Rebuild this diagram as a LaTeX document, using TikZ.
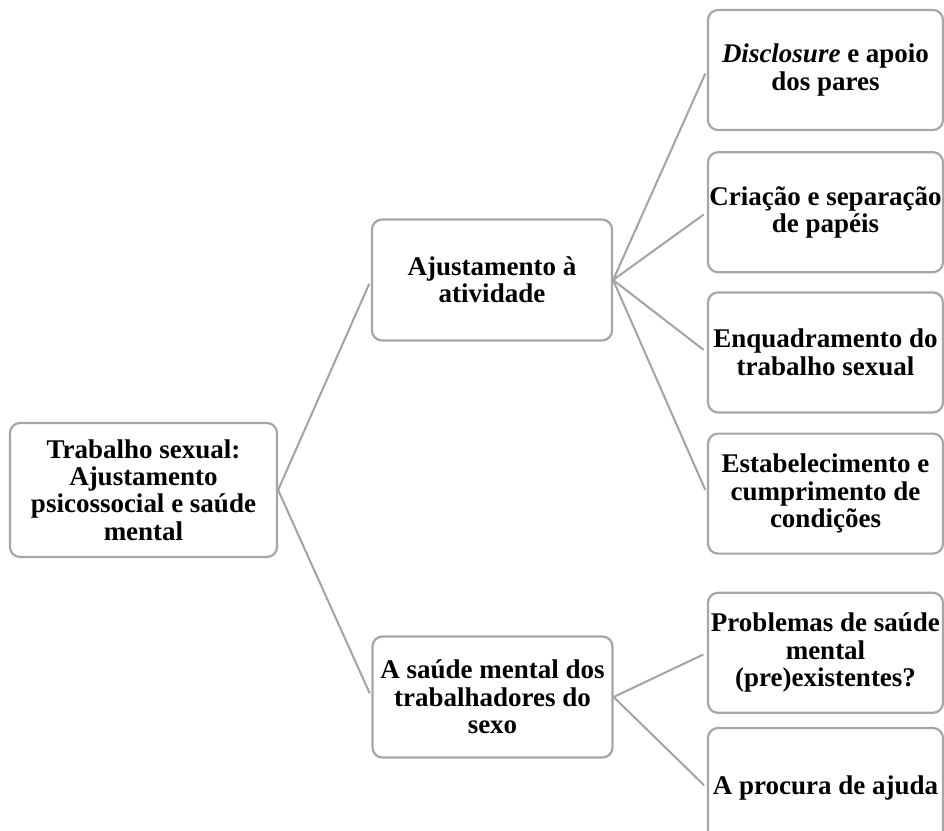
\documentclass[tikz,border=0pt]{standalone}
\usepackage{fontspec}
\setmainfont{Liberation Serif}
\usepackage{xcolor}
\usepackage{tikz}
\usetikzlibrary{
    positioning,
    arrows.meta
}
\definecolor{boxgray}{HTML}{A6A6A6}
\definecolor{linegray}{HTML}{A3A3A3}
\tikzset{
    mapbox/.style={
        rectangle, draw=boxgray, line width=1.1pt, fill=white,
        rounded corners=5pt, align=center, inner sep=0pt,
        font=\fontsize{13.5}{13.7}\selectfont\bfseries
    }
}

\begin{document}
\begin{tikzpicture}[
        root_box/.style={mapbox, minimum width=133.5pt, minimum height=67pt},
        branch_box/.style={mapbox, minimum width=120pt, minimum height=60.5pt},
        leaf_box/.style={mapbox, minimum width=117.5pt, minimum height=60pt},
        link/.style={draw=linegray, line width=1pt, shorten >=2pt}
    ]
    \useasboundingbox (0,0) rectangle (472pt,-415.5pt);

    % ROOT
    \node[root_box] (root) at (71.75pt,-245pt) {Trabalho sexual:\\Ajustamento\\psicossocial e saúde\\mental};

    % BRANCHES
    \node[branch_box] (adjust) at (246pt,-140pt) {Ajustamento à\\atividade};
    \node[branch_box] (health) at (246.25pt,-348.5pt) {A saúde mental dos\\trabalhadores do\\sexo};

    % LEAVES (adjustment)
    \node[leaf_box] (disclosure) at (412.75pt,-35pt) {\textit{Disclosure} e apoio\\dos pares};
    \node[leaf_box, below=10pt of disclosure] (roles) {Criação e separação\\de papéis};
    \node[leaf_box, below=9pt of roles] (framing) {Enquadramento do\\trabalho sexual};
    \node[leaf_box, below=9.5pt of framing] (conditions) {Estabelecimento e\\cumprimento de\\condições};

    % LEAVES (mental health)
    \node[leaf_box, below=18.5pt of conditions] (problems) {Problemas de saúde\\mental\\(pre)existentes?};
    \node[leaf_box, below=6.5pt of problems] (help) {A procura de ajuda};

    % Connections
    \draw[link] (root.east) -- (adjust.west);
    \draw[link] (root.east) -- (health.west);

    \draw[link] (adjust.east) -- (disclosure.west);
    \draw[link] (adjust.east) -- (roles.west);
    \draw[link] (adjust.east) -- (framing.west);
    \draw[link] (adjust.east) -- (conditions.west);

    \draw[link] (health.east) -- (problems.west);
    \draw[link] (health.east) -- (help.west);

\end{tikzpicture}
\end{document}
